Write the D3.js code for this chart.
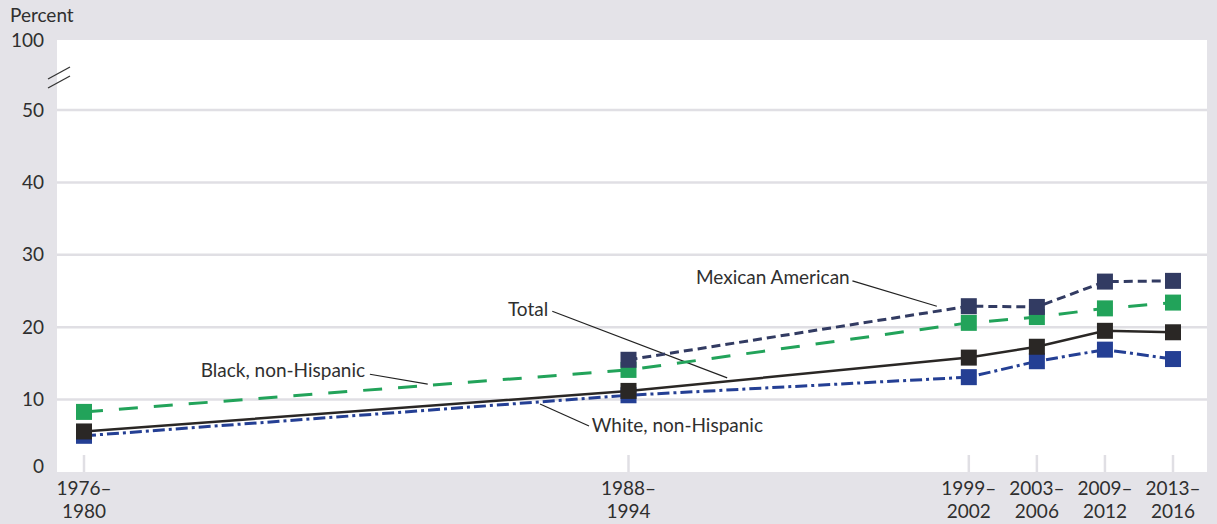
<!DOCTYPE html>
<html lang="en">
<head>
    <meta charset="UTF-8">
    <title>Obesity prevalence by race and Hispanic origin</title>
    <script src="https://d3js.org/d3.v7.min.js"></script>
    <style>
        body {
            margin: 0;
            background-color: #e4e3e8;
            font-family: Lato, "Open Sans", sans-serif;
        }
        .lbl {
            font-size: 19px;
            fill: #2f2f2f;
        }
    </style>
</head>
<body>
    <div id="chart"></div>
    <script>
        // Survey periods and their slot on the (uneven) time axis
        const periods = [["1976–", "1980"], ["1988–", "1994"], ["1999–", "2002"],
                         ["2003–", "2006"], ["2009–", "2012"], ["2013–", "2016"]];
        const periodSlot = [0, 8, 13, 14, 15, 16];

        const yTicks = [0, 10, 20, 30, 40, 50, 100];
        const gridTicks = [10, 20, 30, 40, 50];

        // Values in percent (null = not available)
        const whiteNH  = [5.0, 10.6, 13.1, 15.3, 16.9, 15.6];
        const total    = [5.6, 11.2, 15.8, 17.3, 19.5, 19.3];
        const blackNH  = [8.3, 14.1, 20.6, 21.4, 22.6, 23.4];
        const mexican  = [null, 15.5, 22.9, 22.8, 26.3, 26.4];

        // Leader-line annotations in data units (slot, percent)
        const notes = [
            { text: "Mexican American", tx: 11.25, ty: 26.9, anchor: "end",   x1: 11.29, y1: 26.4, x2: 12.53, y2: 22.9 },
            { text: "Total",            tx: 6.82,  ty: 22.5, anchor: "end",   x1: 6.88,  y1: 22.2, x2: 9.45,  y2: 13.0 },
            { text: "Black, non-Hispanic", tx: 4.13, ty: 14.1, anchor: "end", x1: 4.20,  y1: 13.5, x2: 5.05,  y2: 12.15 },
            { text: "White, non-Hispanic", tx: 7.46, ty: 6.5, anchor: "start", x1: 7.42, y1: 6.35, x2: 6.70,  y2: 9.4 }
        ];

        const W = 1217, H = 524;
        const plot = { left: 57, right: 1207, top: 40, bottom: 472 };

        const svg = d3.select("#chart").append("svg")
            .attr("width", W).attr("height", H)
            .style("display", "block");

        const x = d3.scaleLinear().domain([0, 16]).range([84, 1173]);
        // broken axis: 0-50 linear, 50-100 compressed
        const y = d3.scaleLinear().domain([0, 50, 100]).range([plot.bottom, 110, plot.top]);

        svg.append("rect")
            .attr("x", plot.left).attr("y", plot.top)
            .attr("width", plot.right - plot.left)
            .attr("height", plot.bottom - plot.top)
            .attr("fill", "#fff");

        // gridlines
        svg.append("g").selectAll("line").data(gridTicks).join("line")
            .attr("x1", plot.left).attr("x2", plot.right)
            .attr("y1", d => y(d)).attr("y2", d => y(d))
            .attr("stroke", "#e0dfe4").attr("stroke-width", 2.5);

        // x tick marks
        svg.append("g").selectAll("line").data(periodSlot).join("line")
            .attr("x1", d => x(d)).attr("x2", d => x(d))
            .attr("y1", plot.bottom - 17).attr("y2", plot.bottom)
            .attr("stroke", "#e0dfe4").attr("stroke-width", 2.5);

        // y labels
        svg.append("g").selectAll("text").data(yTicks).join("text")
            .attr("class", "lbl")
            .attr("x", 44)
            .attr("y", d => d === 0 ? y(d) - 6 : y(d))
            .attr("dy", "0.35em")
            .attr("text-anchor", "end")
            .text(d => d);

        svg.append("text").attr("class", "lbl")
            .attr("x", 10).attr("y", 22)
            .text("Percent");

        // axis break marks
        const brk = svg.append("g").attr("stroke", "#333").attr("stroke-width", 1.3);
        [0, 9].forEach(off => {
            brk.append("line")
                .attr("x1", 48).attr("y1", 79 + off)
                .attr("x2", 70).attr("y2", 67 + off);
        });

        // x labels
        const xl = svg.append("g").selectAll("text").data(periods).join("text")
            .attr("class", "lbl")
            .attr("text-anchor", "middle")
            .attr("transform", (d, i) => `translate(${x(periodSlot[i])},495)`);
        xl.append("tspan").attr("x", 0).attr("y", 0).text(d => d[0]);
        xl.append("tspan").attr("x", 0).attr("y", 23).text(d => d[1]);

        // annotations
        const ann = svg.append("g");
        ann.selectAll("line").data(notes).join("line")
            .attr("x1", d => x(d.x1)).attr("y1", d => y(d.y1))
            .attr("x2", d => x(d.x2)).attr("y2", d => y(d.y2))
            .attr("stroke", "#222").attr("stroke-width", 1.2);
        ann.selectAll("text").data(notes).join("text")
            .attr("class", "lbl")
            .attr("x", d => x(d.tx)).attr("y", d => y(d.ty))
            .attr("dy", "0.35em")
            .attr("text-anchor", d => d.anchor)
            .text(d => d.text);

        // series, drawn back to front
        const series = [
            { values: whiteNH, color: "#243f94", dash: "12,4,3,4", width: 3 },
            { values: total,   color: "#2a2725", dash: null,       width: 2.5 },
            { values: blackNH, color: "#22a35a", dash: "19,16",    width: 3 },
            { values: mexican, color: "#323b62", dash: "9,5",      width: 3 }
        ];

        const line = d3.line()
            .defined(d => d.v != null)
            .x(d => x(d.s))
            .y(d => y(d.v));

        series.forEach(s => {
            const pts = s.values.map((v, i) => ({ s: periodSlot[i], v: v }));
            const g = svg.append("g");
            g.append("path")
                .datum(pts)
                .attr("fill", "none")
                .attr("stroke", s.color)
                .attr("stroke-width", s.width)
                .attr("stroke-dasharray", s.dash)
                .attr("d", line);
            g.selectAll("rect").data(pts.filter(d => d.v != null)).join("rect")
                .attr("x", d => x(d.s) - 8)
                .attr("y", d => y(d.v) - 8)
                .attr("width", 16).attr("height", 16)
                .attr("fill", s.color);
        });
    </script>
</body>
</html>
